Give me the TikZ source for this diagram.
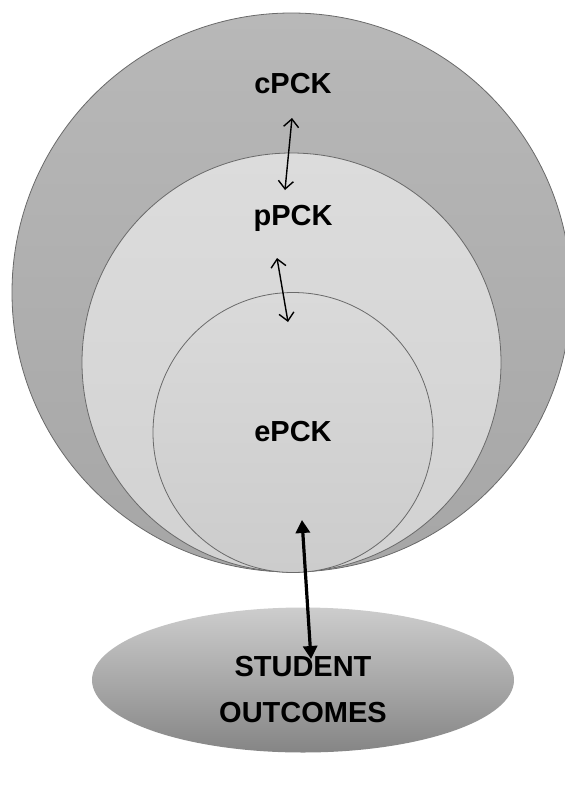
\documentclass[tikz,border=0pt]{standalone}
\usepackage{fontspec}
\setmainfont{Liberation Sans}
\usepackage{tikz}
\usetikzlibrary{shapes.geometric,arrows.meta}
\definecolor{rim}{HTML}{6A6A6A}
\definecolor{outertop}{HTML}{B8B8B8}
\definecolor{outerbot}{HTML}{A6A6A6}
\definecolor{midtop}{HTML}{DCDCDC}
\definecolor{midbot}{HTML}{D2D2D2}
\definecolor{intop}{HTML}{DADADA}
\definecolor{inbot}{HTML}{CCCCCC}
\definecolor{outtop}{HTML}{CDCDCD}
\definecolor{outbot}{HTML}{858585}

\begin{document}
\begin{tikzpicture}[x=1pt,y=-1pt,
  ring/.style={circle,draw=rim,line width=0.8pt,inner sep=0pt},
  lbl/.style={font=\fontsize{29}{33}\selectfont\bfseries},
  thin/.style={line width=1.4pt,{Straight Barb[length=8pt,width=15pt]}-{Straight Barb[length=8pt,width=15pt]}},
  thick/.style={line width=3.2pt,{Triangle[length=13pt,width=14pt]}-{Triangle[length=13pt,width=14pt]}}]
\useasboundingbox (0,0) rectangle (565,785);
% nested circles, all touching at the bottom
\node[ring,minimum size=559pt,top color=outertop,bottom color=outerbot] (cring) at (291.5,292.5) {};
\node[ring,minimum size=419pt,top color=midtop,bottom color=midbot] (pring) at (291.5,362.5) {};
\node[ring,minimum size=280pt,top color=intop,bottom color=inbot] (ering) at (293,432.5) {};
\node[ellipse,draw=none,minimum width=422pt,minimum height=145pt,inner sep=0pt,
  top color=outtop,bottom color=outbot] (sring) at (303,680) {};
\node[lbl] (cpck) at (293,84) {cPCK};
\node[lbl] (ppck) at (293,218) {pPCK};
\node[lbl] (epck) at (293,432) {ePCK};
\node[lbl,align=center] (outc) at (303,690) {STUDENT\\[13pt]OUTCOMES};
\coordinate (a1) at (292,118);
\coordinate (b1) at (285,190);
\coordinate (a2) at (277,258);
\coordinate (b2) at (288,322);
\coordinate (a3) at (302,520);
\coordinate (b3) at (311,659);
\draw[thin] (a1) -- (b1);
\draw[thin] (a2) -- (b2);
\draw[thick] (a3) -- (b3);
\end{tikzpicture}
\end{document}
